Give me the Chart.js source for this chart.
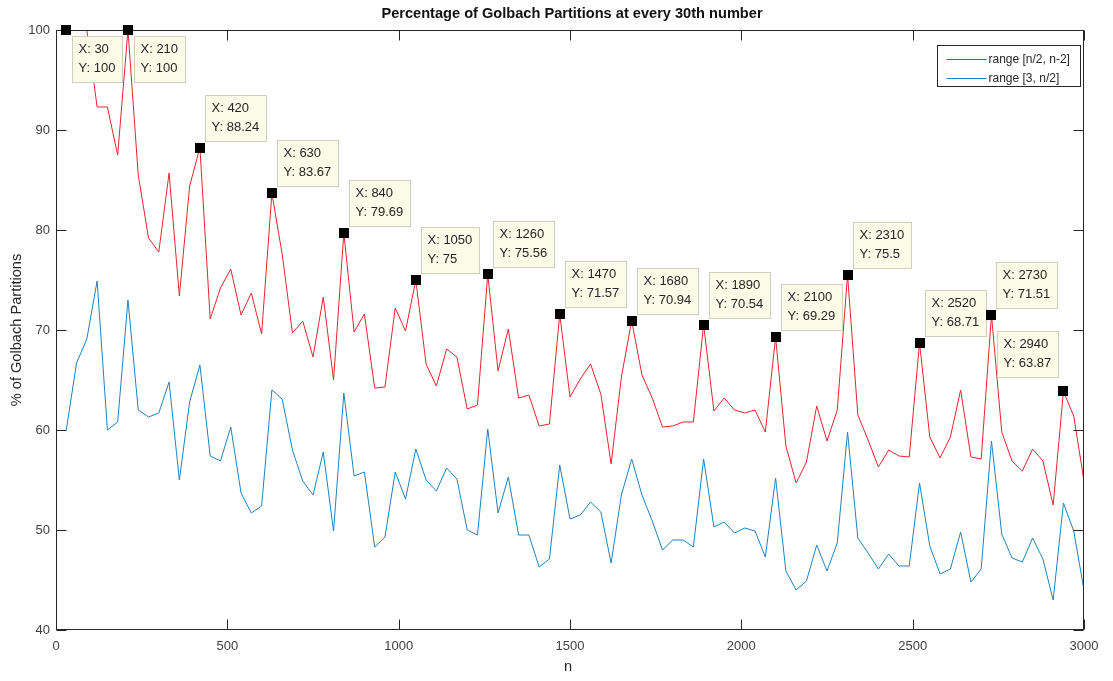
<!DOCTYPE html>
<html>
<head>
<meta charset="utf-8">
<script src="https://cdn.jsdelivr.net/npm/chart.js@4/dist/chart.umd.min.js"></script>
<style>
  html, body { margin: 0; padding: 0; background: #ffffff; }
  #wrap { width: 1113px; height: 681px; }
</style>
</head>
<body>
<div id="wrap"><canvas id="golbach" width="1113" height="681"></canvas></div>
<script>
// Even numbers n sampled every 30
const nValues = [
  30, 60, 90, 120, 150, 180, 210, 240, 270, 300,
  330, 360, 390, 420, 450, 480, 510, 540, 570, 600,
  630, 660, 690, 720, 750, 780, 810, 840, 870, 900,
  930, 960, 990, 1020, 1050, 1080, 1110, 1140, 1170, 1200,
  1230, 1260, 1290, 1320, 1350, 1380, 1410, 1440, 1470, 1500,
  1530, 1560, 1590, 1620, 1650, 1680, 1710, 1740, 1770, 1800,
  1830, 1860, 1890, 1920, 1950, 1980, 2010, 2040, 2070, 2100,
  2130, 2160, 2190, 2220, 2250, 2280, 2310, 2340, 2370, 2400,
  2430, 2460, 2490, 2520, 2550, 2580, 2610, 2640, 2670, 2700,
  2730, 2760, 2790, 2820, 2850, 2880, 2910, 2940, 2970, 3000
];

// % of Golbach partitions, primes searched in [n/2, n-2]
const upperRange = [
  100, 100, 100, 92.3, 92.3, 87.5, 100, 85.5, 79.2, 77.8,
  85.7, 73.4, 84.4, 88.24, 71.1, 74.2, 76.1, 71.5, 73.7, 69.6,
  83.67, 77.6, 69.7, 70.9, 67.3, 73.3, 65.0, 79.69, 69.8, 71.6,
  64.2, 64.3, 72.2, 69.9, 75, 66.6, 64.4, 68.1, 67.3, 62.1,
  62.5, 75.56, 65.9, 70.1, 63.2, 63.5, 60.4, 60.6, 71.57, 63.3,
  65.1, 66.6, 63.6, 56.6, 65.3, 70.94, 65.5, 63.2, 60.3, 60.4,
  60.8, 60.8, 70.54, 61.9, 63.2, 62.0, 61.7, 62.0, 59.8, 69.29,
  58.4, 54.7, 56.8, 62.4, 58.9, 62.0, 75.5, 61.5, 59.0, 56.3,
  58.0, 57.4, 57.3, 68.71, 59.3, 57.2, 59.3, 64.0, 57.3, 57.1,
  71.51, 59.8, 56.9, 55.9, 58.1, 56.9, 52.5, 63.87, 61.4, 54.9
];

// % of Golbach partitions, primes searched in [3, n/2]
const lowerRange = [
  60.0, 66.7, 69.1, 74.9, 60.0, 60.8, 73.0, 62.0, 61.3, 61.7,
  64.8, 55.0, 62.8, 66.5, 57.4, 56.9, 60.3, 53.7, 51.7, 52.4,
  64.0, 63.1, 58.0, 54.9, 53.5, 57.8, 49.9, 63.7, 55.4, 55.8,
  48.3, 49.3, 55.8, 53.1, 58.1, 55.0, 53.9, 56.2, 55.1, 50.0,
  49.5, 60.1, 51.7, 55.3, 49.5, 49.5, 46.3, 47.1, 56.5, 51.1,
  51.5, 52.8, 51.8, 46.7, 53.5, 57.1, 53.5, 50.9, 48.0, 49.0,
  49.0, 48.3, 57.1, 50.3, 50.8, 49.7, 50.2, 49.9, 47.3, 55.2,
  45.9, 44.0, 44.9, 48.5, 45.9, 48.7, 59.8, 49.2, 47.7, 46.1,
  47.6, 46.4, 46.4, 54.7, 48.4, 45.6, 46.1, 49.8, 44.8, 46.1,
  58.9, 49.6, 47.2, 46.8, 49.2, 47.1, 43.0, 52.7, 49.9, 44.0
];

const seriesLabels = ['range [n/2, n-2]', 'range [3, n/2]'];

// Data tips pinned on the upper curve (every 210th number)
const tipN = [30, 210, 420, 630, 840, 1050, 1260, 1470, 1680, 1890, 2100, 2310, 2520, 2730, 2940];
const tipSide = ['below', 'below', 'above', 'above', 'above', 'above', 'above', 'above',
                 'above', 'above', 'above', 'above', 'above', 'above', 'aboveLeft'];

const xTicks = [0, 500, 1000, 1500, 2000, 2500, 3000];
const yTicks = [40, 50, 60, 70, 80, 90, 100];

const FONT = "'Liberation Sans', Arial, sans-serif";
const INK = '#262626';
const RED = '#e3262e';
const BLUE = '#1f82bf';

const toPoints = ys => nValues.map((n, i) => ({ x: n, y: ys[i] }));

// Boxed axes with inward ticks on all four sides, title, axis labels
const axesFrame = {
  id: 'axesFrame',
  afterDatasetsDraw(chart) {
    const { ctx, chartArea: a, scales: { x, y } } = chart;
    const L = Math.round(a.left) + 0.5, R = Math.round(a.right) - 0.5;
    const T = Math.round(a.top) + 0.5, B = Math.round(a.bottom) - 0.5;
    ctx.save();
    ctx.strokeStyle = INK;
    ctx.lineWidth = 1;
    ctx.strokeRect(L, T, R - L, B - T);
    const tl = 10;
    ctx.beginPath();
    xTicks.forEach(v => {
      const px = Math.round(x.getPixelForValue(v)) + 0.5;
      ctx.moveTo(px, B); ctx.lineTo(px, B - tl);
      ctx.moveTo(px, T); ctx.lineTo(px, T + tl);
    });
    yTicks.forEach(v => {
      const py = Math.round(y.getPixelForValue(v)) + 0.5;
      ctx.moveTo(L, py); ctx.lineTo(L + tl, py);
      ctx.moveTo(R, py); ctx.lineTo(R - tl, py);
    });
    ctx.stroke();

    const cx = (a.left + a.right) / 2;
    ctx.fillStyle = '#111111';
    ctx.font = 'bold 14.6px ' + FONT;
    ctx.textAlign = 'center';
    ctx.textBaseline = 'middle';
    ctx.fillText('Percentage of Golbach Partitions at every 30th number', cx + 2, 14);

    ctx.fillStyle = INK;
    ctx.font = '14.6px ' + FONT;
    ctx.fillText('n', cx - 2, 667);
    ctx.save();
    ctx.translate(17, (a.top + a.bottom) / 2);
    ctx.rotate(-Math.PI / 2);
    ctx.fillText('% of Golbach Partitions', 0, 0);
    ctx.restore();
    ctx.restore();
  }
};

// Data-tip markers and their label boxes
const dataTips = {
  id: 'dataTips',
  afterDraw(chart) {
    const { ctx, scales: { x, y } } = chart;
    ctx.save();
    ctx.font = '13px ' + FONT;
    tipN.forEach((n, k) => {
      const v = upperRange[nValues.indexOf(n)];
      const px = x.getPixelForValue(n);
      const py = y.getPixelForValue(v);
      const lines = ['X: ' + n, 'Y: ' + v];
      const w = Math.ceil(Math.max(...lines.map(s => ctx.measureText(s).width))) + 13;
      const h = 46;
      let bx, by;
      if (tipSide[k] === 'below') { bx = px + 6; by = py + 6; }
      else if (tipSide[k] === 'aboveLeft') { bx = px - 5 - w; by = py - 14 - h; }
      else { bx = px + 5; by = py - 7 - h; }
      bx = Math.round(bx) + 0.5; by = Math.round(by) + 0.5;
      ctx.fillStyle = '#fbfbe8';
      ctx.strokeStyle = '#cfcfbd';
      ctx.lineWidth = 1;
      ctx.fillRect(bx, by, w, h);
      ctx.strokeRect(bx, by, w, h);
      ctx.fillStyle = INK;
      ctx.textAlign = 'left';
      ctx.textBaseline = 'middle';
      ctx.fillText(lines[0], bx + 6, by + 13);
      ctx.fillText(lines[1], bx + 6, by + 32);
      ctx.fillStyle = '#000000';
      ctx.fillRect(Math.round(px) - 5, Math.round(py) - 5, 10, 10);
    });
    ctx.restore();
  }
};

// Legend box in the upper right corner of the axes
const cornerLegend = {
  id: 'cornerLegend',
  afterDraw(chart) {
    const { ctx } = chart;
    const bx = 937.5, by = 45.5, bw = 143, bh = 41;
    ctx.save();
    ctx.fillStyle = '#ffffff';
    ctx.fillRect(bx, by, bw, bh);
    ctx.strokeStyle = INK;
    ctx.lineWidth = 1;
    ctx.strokeRect(bx, by, bw, bh);
    ctx.font = '12px ' + FONT;
    ctx.textAlign = 'left';
    ctx.textBaseline = 'middle';
    chart.data.datasets.forEach((ds, i) => {
      const ry = Math.round(by + 13 + i * 19) + 0.5;
      ctx.strokeStyle = ds.borderColor;
      ctx.beginPath();
      ctx.moveTo(bx + 9, ry);
      ctx.lineTo(bx + 49, ry);
      ctx.stroke();
      ctx.fillStyle = INK;
      ctx.fillText(ds.label, bx + 51, ry);
    });
    ctx.restore();
  }
};

new Chart(document.getElementById('golbach'), {
  type: 'line',
  data: {
    datasets: [
      { label: seriesLabels[0], data: toPoints(upperRange), borderColor: RED, borderWidth: 1, pointRadius: 0, tension: 0, fill: false },
      { label: seriesLabels[1], data: toPoints(lowerRange), borderColor: BLUE, borderWidth: 1, pointRadius: 0, tension: 0, fill: false }
    ]
  },
  options: {
    responsive: false,
    animation: false,
    devicePixelRatio: 1,
    layout: { padding: { top: 30, right: 29, left: 0, bottom: 0 } },
    plugins: { legend: { display: false }, tooltip: { enabled: false }, title: { display: false } },
    scales: {
      x: {
        type: 'linear', min: 0, max: 3000,
        grid: { display: false, drawTicks: false },
        border: { display: false },
        afterBuildTicks: s => { s.ticks = xTicks.map(v => ({ value: v })); },
        afterFit: s => { s.height = 51; s.paddingRight = 0; s.paddingLeft = 0; },
        ticks: { padding: 9, color: '#404040', font: { family: FONT, size: 13 }, maxRotation: 0, autoSkip: false,
                 callback: v => String(v) }
      },
      y: {
        type: 'linear', min: 40, max: 100,
        grid: { display: false, drawTicks: false },
        border: { display: false },
        afterBuildTicks: s => { s.ticks = yTicks.map(v => ({ value: v })); },
        afterFit: s => { s.width = 56; },
        ticks: { padding: 6, color: '#404040', font: { family: FONT, size: 13 }, callback: v => String(v) }
      }
    }
  },
  plugins: [axesFrame, dataTips, cornerLegend]
});
</script>
</body>
</html>
